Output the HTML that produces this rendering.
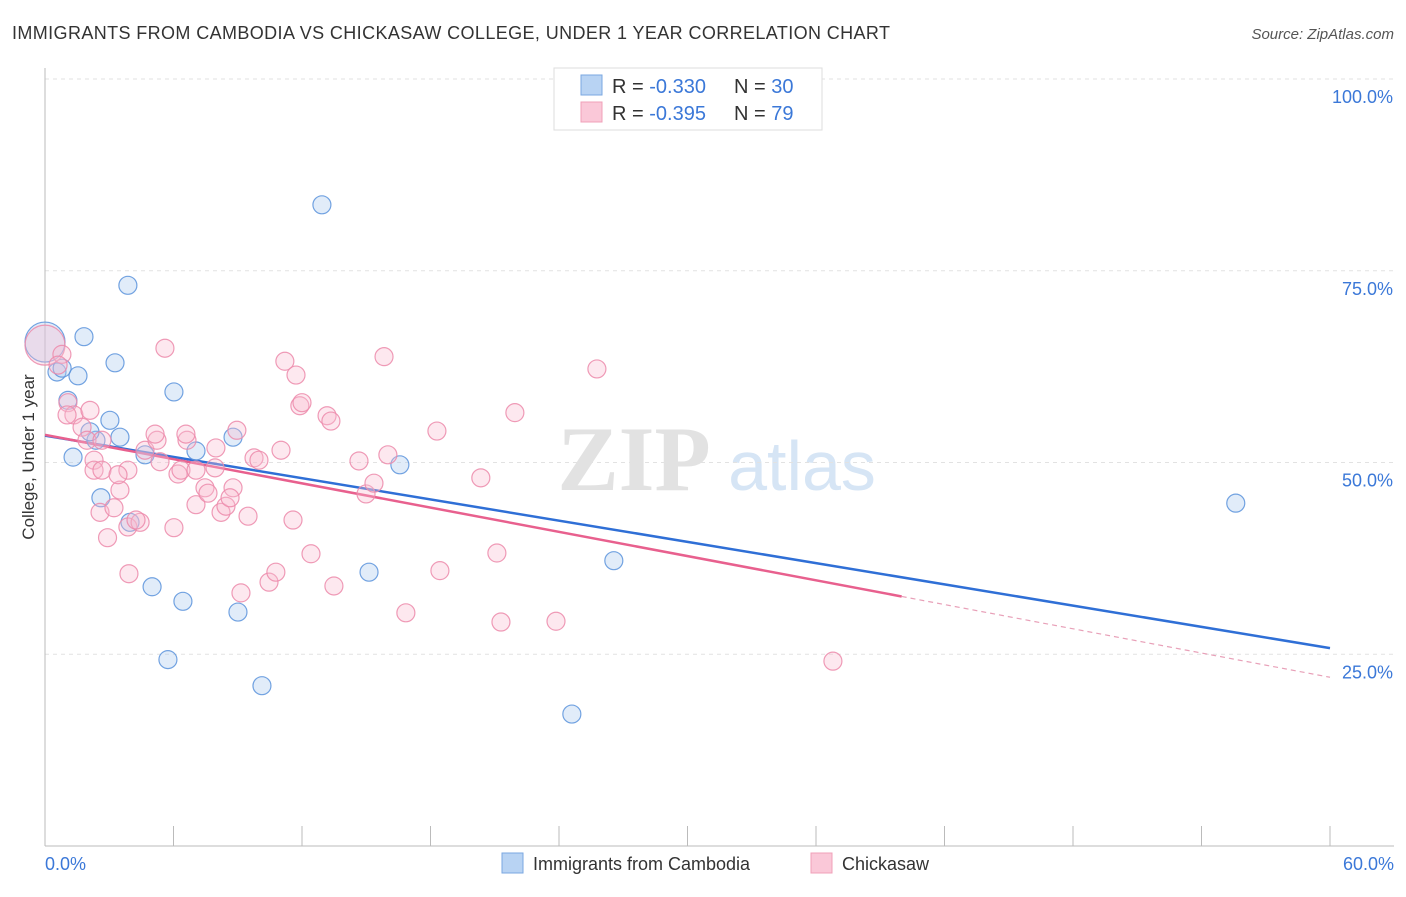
<!DOCTYPE html>
<html><head><meta charset="utf-8"><style>
body{margin:0;background:#fff;font-family:"Liberation Sans",sans-serif;}
svg text{font-family:"Liberation Sans",sans-serif;}
</style></head><body>
<svg id="chart" width="1406" height="892" viewBox="0 0 1406 892" xmlns="http://www.w3.org/2000/svg">
<text x="12" y="39" font-size="18" fill="#333" textLength="878">IMMIGRANTS FROM CAMBODIA VS CHICKASAW COLLEGE, UNDER 1 YEAR CORRELATION CHART</text>
<text x="1394" y="39" font-size="15" fill="#555" text-anchor="end" font-style="italic">Source: ZipAtlas.com</text>
<g>
<text x="634" y="490" font-size="92" fill="#e2e2e2" text-anchor="middle" font-weight="bold" style="font-family:'Liberation Serif',serif">ZIP</text>
<text x="802" y="490" font-size="70" fill="#d6e5f5" text-anchor="middle">atlas</text>
</g>
<g id="grid"></g>
<g id="axes"></g>
<g id="lines"></g>
<g id="points"></g>
<text transform="translate(34,457) rotate(-90)" font-size="17" fill="#333" text-anchor="middle">College, Under 1 year</text>
<g>
<rect x="554" y="68" width="268" height="62" fill="#fff" stroke="#ddd"/>
<rect x="581" y="75" width="21" height="20" fill="#b8d3f3" stroke="#7aa7e0"/>
<rect x="581" y="102" width="21" height="20" fill="#fac8d8" stroke="#f0a0b8"/>
<text x="612" y="93" font-size="20" fill="#333">R = <tspan fill="#3b78d8">-0.330</tspan><tspan x="734">N = </tspan><tspan fill="#3b78d8">30</tspan></text>
<text x="612" y="120" font-size="20" fill="#333">R = <tspan fill="#3b78d8">-0.395</tspan><tspan x="734">N = </tspan><tspan fill="#3b78d8">79</tspan></text>
</g>
<g>
<rect x="502" y="853" width="21" height="20" fill="#b8d3f3" stroke="#7aa7e0"/>
<text x="533" y="870" font-size="18" fill="#333">Immigrants from Cambodia</text>
<rect x="811" y="853" width="21" height="20" fill="#fac8d8" stroke="#f0a0b8"/>
<text x="842" y="870" font-size="18" fill="#333">Chickasaw</text>
</g>
</svg>
<script>
const yTicks=[25,50,75,100];
const yTickLabels=["25.0%","50.0%","75.0%","100.0%"];
const xTickLabels=["0.0%","60.0%"];
const blueX=[0,1.82,3.87,3.27,1.54,0.56,1.07,3.03,2.38,3.5,6.02,1.31,4.67,7.05,8.78,2.61,3.97,5.0,6.44,9.01,5.74,10.13,12.93,15.13,16.57,26.56,24.6,55.6,0.8,2.1];
const blueY=[65.7,66.4,73.1,63.0,61.3,61.8,58.1,55.5,52.9,53.3,59.2,50.7,51.0,51.5,53.3,45.4,42.2,33.8,31.9,30.5,24.3,20.9,83.6,35.7,49.7,37.2,17.2,44.7,62.3,54.0];
const pinkX=[0,0.79,0.61,1.07,1.35,1.03,1.73,1.96,2.66,2.29,2.29,2.66,3.5,3.87,3.41,2.57,3.22,2.92,3.87,4.44,3.92,5.6,4.67,5.37,5.23,5.14,6.02,6.63,6.58,6.21,6.35,7.05,7.05,7.47,7.61,7.98,7.94,8.22,8.45,8.78,8.64,8.96,9.48,9.76,9.99,9.15,10.46,10.78,11.02,11.2,11.72,11.9,12.0,11.58,12.42,13.17,13.35,13.49,14.66,14.99,15.36,15.83,16.01,16.85,18.3,18.44,20.35,21.1,21.29,21.94,23.86,25.77,36.79,2.1,4.25];
const pinkY=[65.3,64.1,62.7,57.8,56.2,56.2,54.6,52.9,52.9,50.3,49.0,49.0,46.4,49.0,48.4,43.5,44.1,40.2,41.6,42.2,35.5,64.9,51.6,50.1,52.9,53.7,41.5,52.9,53.7,48.5,49.0,49.0,44.5,46.7,46.0,51.9,49.3,43.5,44.3,46.7,45.4,54.2,43.0,50.6,50.3,33.0,34.4,35.7,51.6,63.2,61.4,57.4,57.8,42.5,38.1,56.1,55.4,33.9,50.2,45.9,47.3,63.8,51.0,30.4,54.1,35.9,48.0,38.2,29.2,56.5,29.3,62.2,24.1,56.8,42.5];
const blueTrend=[53.5,25.8];
const pinkTrend=[53.6,22.0];
const pinkSolidEnd=40;
const NS="http://www.w3.org/2000/svg";
const X=v=>45+v*(1285/60);
const Y=v=>846-v*7.67;
function mk(tag,attrs,parent){const e=document.createElementNS(NS,tag);for(const k in attrs)e.setAttribute(k,attrs[k]);parent.appendChild(e);return e;}
const grid=document.getElementById('grid'),axes=document.getElementById('axes'),lines=document.getElementById('lines'),pts=document.getElementById('points');
yTicks.forEach((t,i)=>{
 const l=mk('line',{x1:45,x2:1394,y1:Y(t),y2:Y(t),stroke:'#e2e2e2','stroke-dasharray':'4,4'},grid);
 
 
 const tx=mk('text',{x:1393,y:Y(t)+24,'font-size':18,fill:'#3b78d8','text-anchor':'end'},axes);
 tx.textContent=yTickLabels[i];
 
 
});
const ax=mk('line',{x1:45,x2:45,y1:68,y2:846,stroke:'#bbb'},axes);


const bx=mk('line',{x1:45,x2:1394,y1:846,y2:846,stroke:'#bbb'},axes);


for(let i=0;i<=10;i++){
 const tk=mk('line',{x1:X(i*6),x2:X(i*6),y1:826,y2:846,stroke:'#bbb'},axes);
 
 
}
[[0,'start',45],[60,'end',1394]].forEach((d,i)=>{
 const tx=mk('text',{x:d[2],y:870,'font-size':18,fill:'#3b78d8','text-anchor':d[1]},axes);
 tx.textContent=xTickLabels[i];
 
 
});
function drawPts(xs,ys,fill,stroke,name){
 xs.forEach((x,i)=>{
  const big=(i===0);
  const c=mk('circle',{cx:X(x),cy:Y(ys[i]),r:big?20:9,fill:fill,'fill-opacity':0.35,stroke:stroke,'stroke-opacity':0.85,'stroke-width':1.2},pts);
  
  
 });
}
drawPts(blueX,blueY,'#a9c8ef','#5b93dc','cambodia-point');
drawPts(pinkX,pinkY,'#f8bcd0','#ec8aaa','chickasaw-point');
const bl=mk('line',{x1:X(0),y1:Y(blueTrend[0]),x2:X(60),y2:Y(blueTrend[1]),stroke:'#2f6fd6','stroke-width':2.5},lines);


const pAt=x=>pinkTrend[0]+(pinkTrend[1]-pinkTrend[0])*x/60;
const pl=mk('line',{x1:X(0),y1:Y(pinkTrend[0]),x2:X(pinkSolidEnd),y2:Y(pAt(pinkSolidEnd)),stroke:'#e8608e','stroke-width':2.5},lines);


const pd=mk('line',{x1:X(pinkSolidEnd),y1:Y(pAt(pinkSolidEnd)),x2:X(60),y2:Y(pinkTrend[1]),stroke:'#e8a0b8','stroke-width':1.2,'stroke-dasharray':'5,4'},lines);


</script>
</body></html>
